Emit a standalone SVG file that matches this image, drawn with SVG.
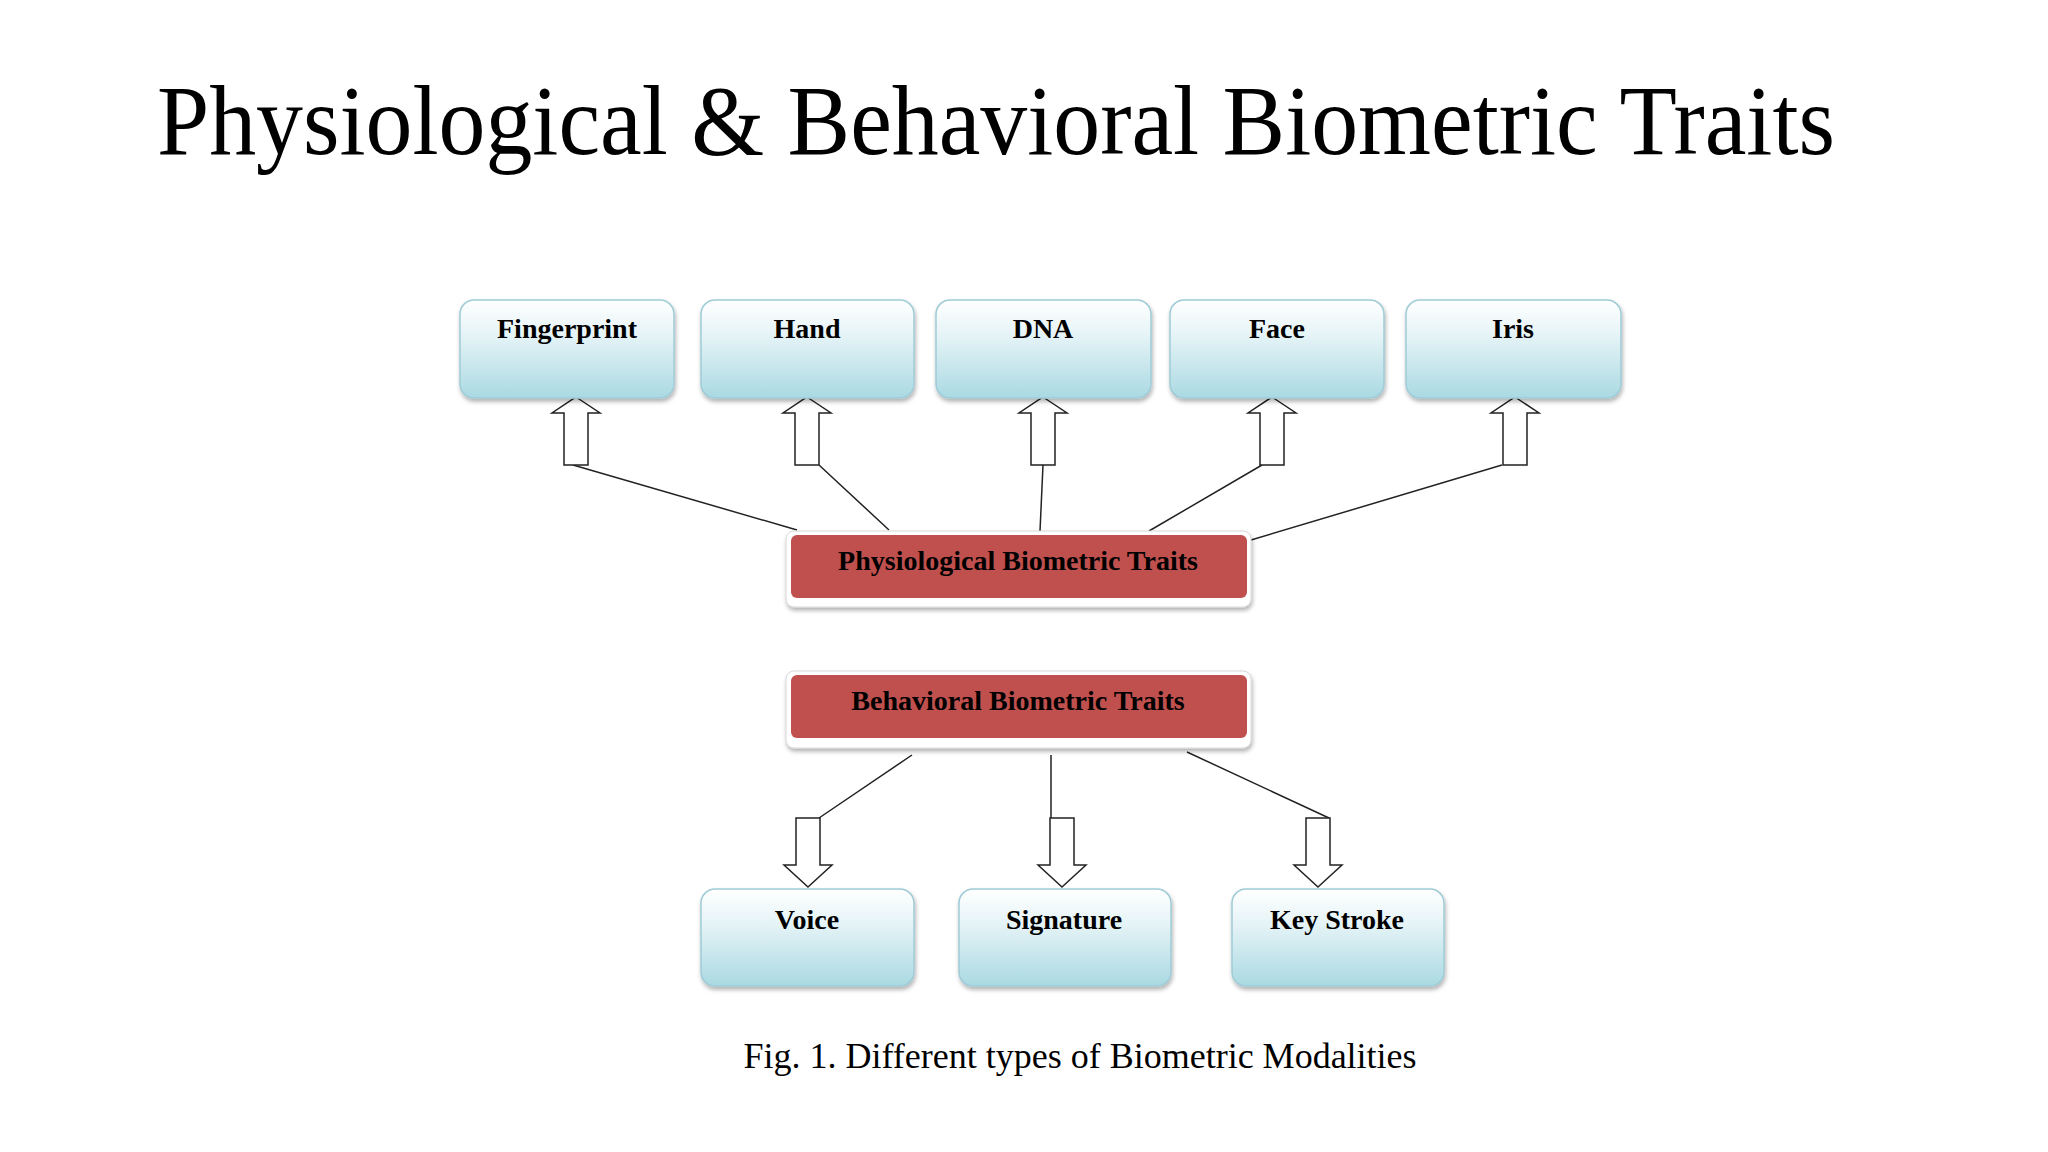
<svg xmlns="http://www.w3.org/2000/svg" width="2048" height="1152" viewBox="0 0 2048 1152">
<defs>
<linearGradient id="bl" x1="0" y1="0" x2="0" y2="1"><stop offset="0" stop-color="#ffffff"/><stop offset="0.35" stop-color="#e6f4f7"/><stop offset="1" stop-color="#aad9e2"/></linearGradient>
<filter id="sh" x="-10%" y="-10%" width="120%" height="130%"><feDropShadow dx="1" dy="3" stdDeviation="2" flood-color="#000" flood-opacity="0.3"/></filter>
</defs>
<style>
.bx{fill:url(#bl);stroke:#9fcbd6;stroke-width:1.5;filter:url(#sh)}
.rd{fill:#c0504d}
.wb{fill:#ffffff;stroke:#d8d8d8;stroke-width:1;filter:url(#sh)}
.lb{font-family:"Liberation Serif",serif;font-weight:bold;font-size:28px;text-anchor:middle;fill:#000}
.ln{stroke:#222;stroke-width:1.5;fill:none}
.ar{fill:#fff;stroke:#222;stroke-width:1.5}
</style>
<rect width="2048" height="1152" fill="#fff"/>
<text x="157" y="154" font-family="'Liberation Serif',serif" font-size="100" textLength="1678" lengthAdjust="spacingAndGlyphs">Physiological &amp; Behavioral Biometric Traits</text>
<g id="connectors">
<path class="ln" d="M573,465 L797,530 M819,465 L889,530 M1043,465 L1040,531 M1262,465 L1149,531 M1502,465 L1251,540"/>
<path class="ln" d="M912,755 L819,818 M1051,755 L1051,818 M1187,752 L1329,818"/>
<path class="ar" d="M576,397 L600,413 L588,413 L588,465 L564,465 L564,413 L552,413 Z"/>
<path class="ar" d="M807,397 L831,413 L819,413 L819,465 L795,465 L795,413 L783,413 Z"/>
<path class="ar" d="M1043,397 L1067,413 L1055,413 L1055,465 L1031,465 L1031,413 L1019,413 Z"/>
<path class="ar" d="M1272,397 L1296,413 L1284,413 L1284,465 L1260,465 L1260,413 L1248,413 Z"/>
<path class="ar" d="M1515,397 L1539,413 L1527,413 L1527,465 L1503,465 L1503,413 L1491,413 Z"/>
<path class="ar" d="M808,887 L832,865 L820,865 L820,818 L796,818 L796,865 L784,865 Z"/>
<path class="ar" d="M1062,887 L1086,865 L1074,865 L1074,818 L1050,818 L1050,865 L1038,865 Z"/>
<path class="ar" d="M1318,887 L1342,865 L1330,865 L1330,818 L1306,818 L1306,865 L1294,865 Z"/>
</g>
<g id="fingerprint"><rect class="bx" x="460" y="300" width="214" height="98" rx="14"/><text class="lb" x="567" y="338">Fingerprint</text></g>
<g id="hand"><rect class="bx" x="701" y="300" width="213" height="98" rx="14"/><text class="lb" x="807" y="338">Hand</text></g>
<g id="dna"><rect class="bx" x="936" y="300" width="215" height="98" rx="14"/><text class="lb" x="1043" y="338">DNA</text></g>
<g id="face"><rect class="bx" x="1170" y="300" width="214" height="98" rx="14"/><text class="lb" x="1277" y="338">Face</text></g>
<g id="iris"><rect class="bx" x="1406" y="300" width="215" height="98" rx="14"/><text class="lb" x="1513" y="338">Iris</text></g>
<g id="physiological"><rect class="wb" x="786" y="531" width="465" height="76" rx="8"/><rect class="rd" x="791" y="535" width="456" height="63" rx="6"/><text class="lb" x="1018" y="570" font-size="27">Physiological Biometric Traits</text></g>
<g id="behavioral"><rect class="wb" x="786" y="671" width="465" height="77" rx="8"/><rect class="rd" x="791" y="675" width="456" height="63" rx="6"/><text class="lb" x="1018" y="710" font-size="27">Behavioral Biometric Traits</text></g>
<g id="voice"><rect class="bx" x="701" y="889" width="213" height="97" rx="14"/><text class="lb" x="807" y="929">Voice</text></g>
<g id="signature"><rect class="bx" x="959" y="889" width="212" height="97" rx="14"/><text class="lb" x="1064" y="929">Signature</text></g>
<g id="keystroke"><rect class="bx" x="1232" y="889" width="212" height="97" rx="14"/><text class="lb" x="1337" y="929">Key Stroke</text></g>
<text x="1080" y="1068" font-family="'Liberation Serif',serif" font-size="36" text-anchor="middle">Fig. 1. Different types of Biometric Modalities</text>
</svg>
